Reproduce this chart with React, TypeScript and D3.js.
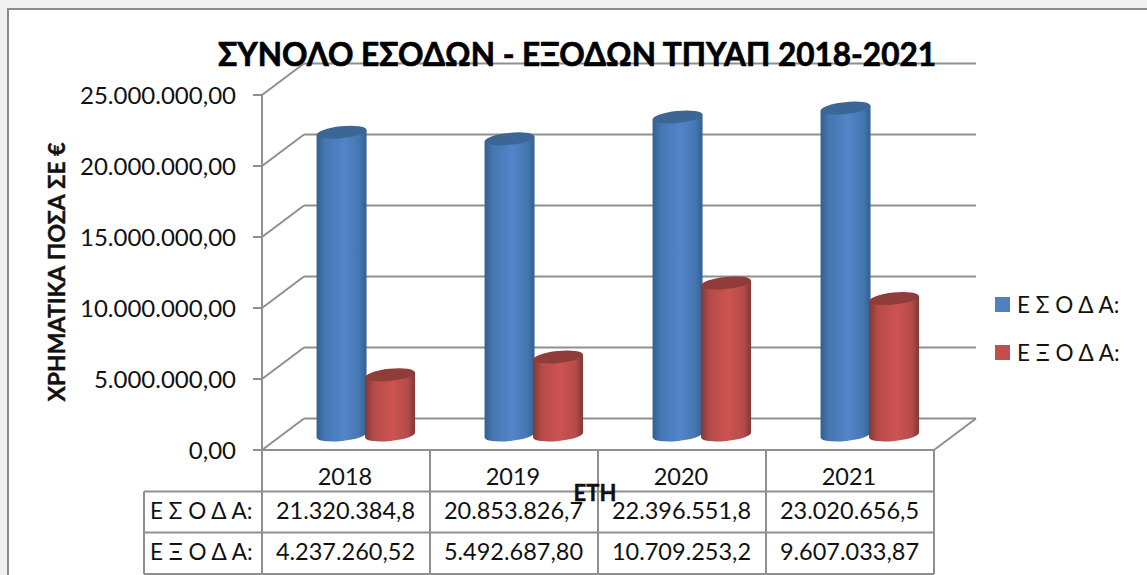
import React from "react";
import * as d3 from "d3";

const W = 1147, H = 575;
const years = ["2018", "2019", "2020", "2021"];
const seriesNames = ["Ε Σ Ο Δ Α:", "Ε Ξ Ο Δ Α:"];
const income = [21320384.8, 20853826.7, 22396551.8, 23020656.5];
const expense = [4237260.52, 5492687.8, 10709253.2, 9607033.87];
const incomeLabels = ["21.320.384,8", "20.853.826,7", "22.396.551,8", "23.020.656,5"];
const expenseLabels = ["4.237.260,52", "5.492.687,80", "10.709.253,2", "9.607.033,87"];
const yTicks = [0, 5000000, 10000000, 15000000, 20000000, 25000000];
const yTickLabels = ["0,00", "5.000.000,00", "10.000.000,00", "15.000.000,00", "20.000.000,00", "25.000.000,00"];
const title = "ΣΥΝΟΛΟ ΕΣΟΔΩΝ - ΕΞΟΔΩΝ ΤΠΥΑΠ 2018-2021";
const yTitle = "ΧΡΗΜΑΤΙΚΑ ΠΟΣΑ ΣΕ €";
const xTitle = "ΕΤΗ";

const FONT = "Lato, 'Noto Sans', sans-serif";
const LINE = "#8f8f8f";
const TEXT = "#111";

export default function App() {
  const frontX = [262, 934];
  const dx = 42, dy = -31.5;
  const yFront = d3.scaleLinear().domain([0, 25000000]).range([450, 95]);
  const yBack = (v: number) => yFront(v) + dy;
  const yBar = (v: number) => yFront(v) - 15;
  const xCat = d3.scaleBand<string>().domain(years).range(frontX);
  const xSer = d3.scaleBand<number>().domain([0, 1]).range([0, 97]);
  const rows = [income, expense];
  const rowLabels = [incomeLabels, expenseLabels];
  const colors = [
    { edge: "#33608f", near: "#4577b3", mid: "#5285c8", cap: "#3c6695", id: "b", sw: "#4f81bd" },
    { edge: "#803836", near: "#b54c49", mid: "#cc5350", cap: "#8f3c3a", id: "r", sw: "#c0504d" },
  ];
  const tableY = [450, 491.5, 532.5, 574];
  const rx = 25, ry = 6, tilt = -6;
  const dyT = rx * Math.sin((tilt * Math.PI) / 180);

  return (
    <svg width={W} height={H} style={{ position: "fixed", left: 0, top: 0, background: "#f0f0f0" }} fontFamily={FONT}>
      <defs>
        {colors.map((c) => (
          <linearGradient key={c.id} id={c.id} x1="0" x2="1" y1="0" y2="0">
            <stop offset="0" stopColor={c.edge} />
            <stop offset="0.18" stopColor={c.near} />
            <stop offset="0.55" stopColor={c.mid} />
            <stop offset="0.85" stopColor={c.near} />
            <stop offset="1" stopColor={c.edge} />
          </linearGradient>
        ))}
      </defs>
      <rect x={8} y={9} width={1160} height={590} fill="#fff" stroke="#8c8c8c" strokeWidth={2} />

      {/* walls */}
      <g stroke={LINE} strokeWidth={2} fill="none">
        {yTicks.map((t) => (
          <g key={t}>
            <line x1={frontX[0] - 9} x2={frontX[0]} y1={yFront(t)} y2={yFront(t)} />
            <line x1={frontX[0]} x2={frontX[0] + dx} y1={yFront(t)} y2={yBack(t)} />
            <line x1={frontX[0] + dx} x2={frontX[1] + dx} y1={yBack(t)} y2={yBack(t)} />
          </g>
        ))}
        <line x1={frontX[0]} x2={frontX[0]} y1={yFront(25000000)} y2={450} />
        <line x1={frontX[1]} x2={frontX[1] + dx} y1={450} y2={450 + dy} />
      </g>

      {/* cylinders */}
      {years.map((yr, i) =>
        rows.map((vals, s) => {
          const cx = (xCat(yr) as number) + 55.3 + (xSer(s) as number) + xSer.bandwidth() / 2;
          const yT = yBar(vals[i]);
          const yB = yBar(0);
          const body = `M${cx - rx},${yT - dyT} L${cx - rx},${yB - dyT} A${rx},${ry} ${tilt} 0 0 ${cx + rx},${yB + dyT} L${cx + rx},${yT + dyT} Z`;
          return (
            <g key={yr + s}>
              <path d={body} fill={`url(#${colors[s].id})`} />
              <ellipse cx={cx} cy={yT} rx={rx} ry={ry} fill={colors[s].cap} transform={`rotate(${tilt} ${cx} ${yT})`} />
            </g>
          );
        })
      )}

      {/* title */}
      <text x={577} y={66} textAnchor="middle" fontSize={32} fontWeight={700} fill="#000" stroke="#000" strokeWidth={0.7} textLength={718} lengthAdjust="spacingAndGlyphs">{title}</text>

      {/* y axis */}
      {yTicks.map((t, i) => (
        <text key={t} x={236} y={yFront(t) + 9} textAnchor="end" fontSize={24} fill={TEXT}>{yTickLabels[i]}</text>
      ))}
      <text transform="translate(65,272) rotate(-90)" textAnchor="middle" fontSize={23} fontWeight={700} fill={TEXT} stroke={TEXT} strokeWidth={0.4}>{yTitle}</text>

      {/* data table */}
      <g stroke={LINE} strokeWidth={2} fill="none">
        {tableY.map((y, i) => (
          <line key={y} x1={i === 0 ? frontX[0] : 144} x2={frontX[1]} y1={y} y2={y} />
        ))}
        <line x1={144} x2={144} y1={tableY[1]} y2={tableY[3]} />
        {d3.range(5).map((k) => (
          <line key={k} x1={frontX[0] + k * xCat.bandwidth()} x2={frontX[0] + k * xCat.bandwidth()} y1={450} y2={574} />
        ))}
      </g>
      {years.map((yr) => (
        <text key={yr} x={(xCat(yr) as number) + xCat.bandwidth() / 2 - 1} y={484.5} textAnchor="middle" fontSize={23.5} fill={TEXT}>{yr}</text>
      ))}
      {rowLabels.map((labels, r) => (
        <g key={r}>
          <text x={150} y={tableY[r + 1] + 27} fontSize={22.5} fill={TEXT}>{seriesNames[r]}</text>
          {labels.map((l, i) => (
            <text key={l} x={(xCat(years[i]) as number) + xCat.bandwidth() / 2 - 0.5} y={tableY[r + 1] + 27} textAnchor="middle" fontSize={23.5} fill={TEXT}>{l}</text>
          ))}
        </g>
      ))}
      <text x={595} y={501} textAnchor="middle" fontSize={22} fontWeight={700} fill={TEXT} stroke={TEXT} strokeWidth={0.4}>{xTitle}</text>

      {/* legend */}
      {seriesNames.map((n, i) => (
        <g key={n}>
          <rect x={995} y={297 + i * 48} width={15} height={15} fill={colors[i].sw} />
          <text x={1017} y={313 + i * 48} fontSize={22.5} fill={TEXT}>{n}</text>
        </g>
      ))}
    </svg>
  );
}
